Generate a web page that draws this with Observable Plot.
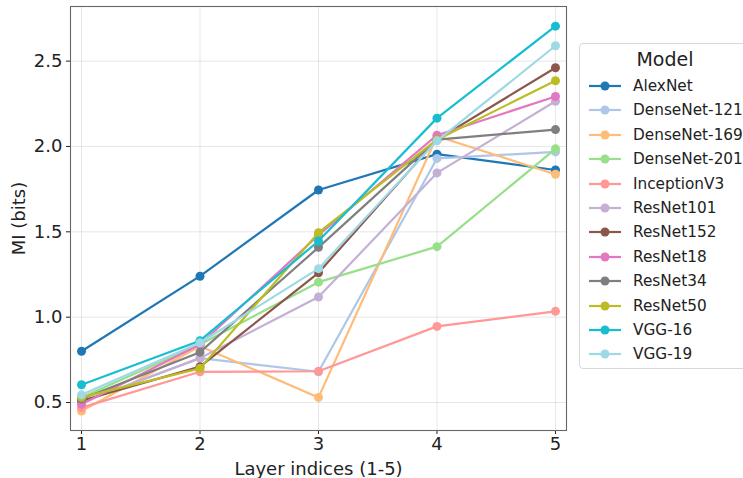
<!DOCTYPE html>
<html>
<head>
<meta charset="utf-8">
<script src="https://cdn.jsdelivr.net/npm/d3@7"></script>
<script src="https://cdn.jsdelivr.net/npm/@observablehq/plot@0.6"></script>
<style>
  html, body { margin: 0; padding: 0; background: #fff; }
  #wrap { position: relative; width: 743px; height: 478px; overflow: hidden; font-family: "DejaVu Sans", sans-serif; }
  #legend { position: absolute; left: 579px; top: 43px; width: 190px; height: 326px; border: 1px solid #d8d8d8; border-radius: 4px; background: #fff; box-sizing: border-box; }
  #legend .title { position: absolute; left: 0; width: 170px; top: 4px; text-align: center; font-size: 19px; color: #222; }
  #legend .row { position: absolute; left: 8px; height: 22px; display: flex; align-items: center; font-size: 15.3px; color: #222; white-space: nowrap; }
  #legend .row svg { margin-right: 11px; }
</style>
</head>
<body>
<div id="wrap"><div id="chart"></div><div id="legend"></div></div>
<script>
const layers = [1, 2, 3, 4, 5];
const models = ["AlexNet", "DenseNet-121", "DenseNet-169", "DenseNet-201", "InceptionV3", "ResNet101", "ResNet152", "ResNet18", "ResNet34", "ResNet50", "VGG-16", "VGG-19"];
const colors = ["#1f77b4", "#aec7e8", "#ffbb78", "#98df8a", "#ff9896", "#c5b0d5", "#8c564b", "#e377c2", "#7f7f7f", "#bcbd22", "#17becf", "#9edae5"];
const alexnet     = [0.80, 1.24, 1.745, 1.955, 1.862];
const densenet121 = [0.50, 0.76, 0.68, 1.93, 1.968];
const densenet169 = [0.45, 0.83, 0.53, 2.06, 1.837];
const densenet201 = [0.53, 0.84, 1.205, 1.413, 1.986];
const inceptionv3 = [0.47, 0.68, 0.683, 0.946, 1.034];
const resnet101   = [0.50, 0.76, 1.118, 1.845, 2.265];
const resnet152   = [0.51, 0.71, 1.26, 2.04, 2.461];
const resnet18    = [0.49, 0.84, 1.48, 2.066, 2.293];
const resnet34    = [0.52, 0.795, 1.409, 2.04, 2.099];
const resnet50    = [0.53, 0.70, 1.495, 2.04, 2.385];
const vgg16       = [0.604, 0.862, 1.446, 2.166, 2.705];
const vgg19       = [0.545, 0.85, 1.284, 2.033, 2.59];
const series = [alexnet, densenet121, densenet169, densenet201, inceptionv3, resnet101, resnet152, resnet18, resnet34, resnet50, vgg16, vgg19];
const yTicks = [0.5, 1.0, 1.5, 2.0, 2.5];

const data = models.map((m, i) => layers.map((l, j) => ({model: m, layer: l, mi: series[i][j]})));

const marks = [
  Plot.gridX(layers, {stroke: "#b0b0b0", strokeOpacity: 0.3}),
  Plot.gridY(yTicks, {stroke: "#b0b0b0", strokeOpacity: 0.3}),
];
data.forEach(d => {
  marks.push(Plot.line(d, {x: "layer", y: "mi", stroke: "model", strokeWidth: 2.2}));
  marks.push(Plot.dot(d, {x: "layer", y: "mi", fill: "model", r: 4.5, stroke: "none"}));
});
marks.push(Plot.frame({stroke: "#666", strokeWidth: 1.1}));

const chart = Plot.plot({
  width: 743, height: 478,
  marginLeft: 70, marginRight: 177, marginTop: 6, marginBottom: 48,
  style: {fontFamily: "DejaVu Sans, sans-serif", fontSize: "18px", color: "#222", background: "#fff"},
  x: {domain: [0.907, 5.093], ticks: layers, tickFormat: d3.format("d"), label: "Layer indices (1-5)", labelAnchor: "center", labelArrow: "none", labelOffset: 44, tickSize: 4, tickPadding: 3},
  y: {domain: [0.336, 2.82], ticks: yTicks, tickFormat: d3.format(".1f"), label: "MI (bits)", labelAnchor: "center", labelArrow: "none", labelOffset: 58, tickSize: 4, tickPadding: 4},
  color: {domain: models, range: colors},
  marks
});
document.getElementById("chart").appendChild(chart);

// legend
const leg = document.getElementById("legend");
const t = document.createElement("div");
t.className = "title"; t.textContent = "Model"; leg.appendChild(t);
models.forEach((m, i) => {
  const row = document.createElement("div");
  row.className = "row";
  row.style.top = (31 + i * 24.4) + "px";
  row.innerHTML = `<svg width="34" height="12"><line x1="1" x2="33" y1="6" y2="6" stroke="${colors[i]}" stroke-width="2.2"/><circle cx="17" cy="6" r="4.5" fill="${colors[i]}"/></svg><span>${m}</span>`;
  leg.appendChild(row);
});
</script>
</body>
</html>
